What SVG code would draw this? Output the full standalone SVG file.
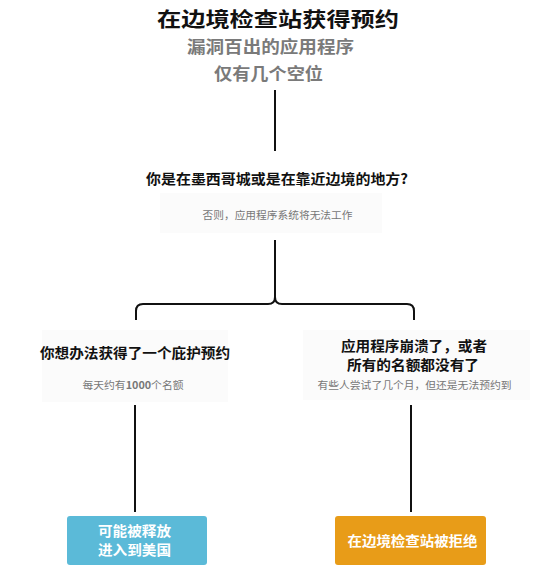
<svg xmlns="http://www.w3.org/2000/svg" width="548" height="570" viewBox="0 0 548 570">
<style>
text{font-family:"Noto Sans CJK SC","Liberation Sans",sans-serif;text-anchor:middle}
.t{font-size:20px;font-weight:bold;fill:#111}
.st{font-size:16.5px;font-weight:bold;fill:#7a7a7a}
.q{font-size:14px;font-weight:bold;fill:#111}
.s{font-size:10px;fill:#777}
.bg{fill:#fbfbfb}
.w{font-size:13.5px;font-weight:bold;fill:#fff}
.ln{stroke:#111;stroke-width:2;fill:none}
</style>
<rect width="548" height="570" fill="#fff"/>
<g id="title">
<text class="t" x="278" y="27" textLength="242" lengthAdjust="spacingAndGlyphs">在边境检查站获得预约</text>
<text class="st" x="270.5" y="53" textLength="167" lengthAdjust="spacingAndGlyphs">漏洞百出的应用程序</text>
<text class="st" x="268.5" y="80" textLength="109" lengthAdjust="spacingAndGlyphs">仅有几个空位</text>
</g>
<g id="question">
<rect class="bg" x="160" y="193" width="222" height="40"/>
<text class="q" x="277" y="184" textLength="262" lengthAdjust="spacingAndGlyphs">你是在墨西哥城或是在靠近边境的地方?</text>
<text class="s" x="277.5" y="219" textLength="150" lengthAdjust="spacingAndGlyphs">否则，应用程序系统将无法工作</text>
</g>
<g id="left">
<rect class="bg" x="42" y="330" width="186" height="72"/>
<text class="q" x="135" y="358" textLength="190" lengthAdjust="spacingAndGlyphs">你想办法获得了一个庇护预约</text>
<text class="s" x="133" y="389" textLength="101" lengthAdjust="spacingAndGlyphs">每天约有<tspan font-weight="bold">1000</tspan>个名额</text>
</g>
<g id="right">
<rect class="bg" x="303" y="330" width="227" height="70"/>
<text class="q" x="414" y="351" textLength="146" lengthAdjust="spacingAndGlyphs">应用程序崩溃了，或者</text>
<text class="q" x="413" y="370" textLength="132" lengthAdjust="spacingAndGlyphs">所有的名额都没有了</text>
<text class="s" x="414.5" y="389" textLength="194" lengthAdjust="spacingAndGlyphs">有些人尝试了几个月，但还是无法预约到</text>
</g>
<g id="released">
<rect x="67" y="516" width="140" height="49" rx="3" fill="#5bbad8"/>
<text class="w" x="134.5" y="536" textLength="73" lengthAdjust="spacingAndGlyphs">可能被释放</text>
<text class="w" x="134.5" y="555" textLength="73" lengthAdjust="spacingAndGlyphs">进入到美国</text>
</g>
<g id="rejected">
<rect x="335" y="516" width="151" height="49" rx="3" fill="#e89c18"/>
<text class="w" x="412.5" y="546" textLength="130" lengthAdjust="spacingAndGlyphs">在边境检查站被拒绝</text>
</g>
<g id="connectors">
<line class="ln" x1="275" y1="90" x2="275" y2="151"/>
<line class="ln" x1="275" y1="240" x2="275" y2="297"/>
<path class="ln" d="M275 297 Q275 304 268 304 H143 Q136 304 136 311 V320"/>
<path class="ln" d="M275 297 Q275 304 282 304 H407 Q414 304 414 311 V320"/>
<line class="ln" x1="135" y1="405" x2="135" y2="512"/>
<line class="ln" x1="411" y1="405" x2="411" y2="512"/>
</g>
</svg>
